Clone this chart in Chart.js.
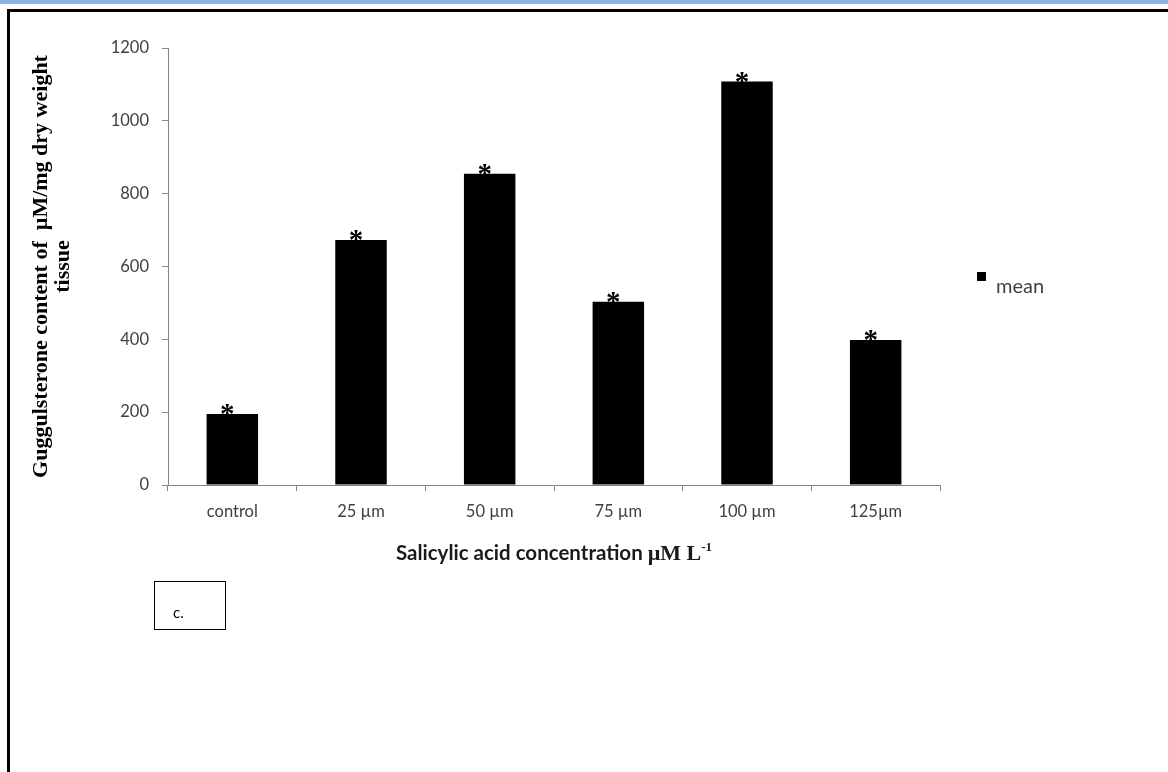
<!DOCTYPE html>
<html>
<head>
<meta charset="utf-8">
<title>Guggulsterone content</title>
<script src="https://cdn.jsdelivr.net/npm/chart.js@4.4.1/dist/chart.umd.min.js"></script>
<style>
  html, body { margin: 0; padding: 0; background: #ffffff; }
  body { width: 1168px; height: 772px; position: relative; overflow: hidden; }
  #strip { position: absolute; left: 0; top: 0; width: 1168px; height: 4px; background: #8db4e2; }
  #frameTop { position: absolute; left: 7px; top: 9px; width: 1161px; height: 3px; background: #000; }
  #frameLeft { position: absolute; left: 7px; top: 9px; width: 3px; height: 763px; background: #000; }
  #chartBox { position: absolute; left: 0; top: 0; width: 1168px; height: 772px; }
  #panel { position: absolute; left: 154px; top: 581px; width: 72px; height: 49px;
           border: 1.5px solid #000; box-sizing: border-box;
           font: 15px Lato, "Open Sans", sans-serif; color: #000; }
  #panel span { position: absolute; left: 18px; top: 21px; }
</style>
</head>
<body>
<div id="strip"></div>
<div id="frameTop"></div>
<div id="frameLeft"></div>
<div id="chartBox"><canvas id="c" width="1168" height="772"></canvas></div>
<div id="panel"><span>c.</span></div>
<script>
// Salicylic acid treatments and mean guggulsterone content
const categories = ['control', '25 µm', '50 µm', '75 µm', '100 µm', '125µm'];
const meanValues = [195, 673, 855, 503, 1108, 398];
const significance = ['*', '*', '*', '*', '*', '*'];
const yTicks = [0, 200, 400, 600, 800, 1000, 1200];
const seriesName = 'mean';
const yTitleLines = ['Guggulsterone content of  µM/mg dry weight', 'tissue'];

const tickFont = { family: 'Lato, "Open Sans", sans-serif', size: 16.5 };
const axisGray = '#868686';
const textGray = '#404040';

// asterisks above bars, the mixed-font x title and the legend key
const annotations = {
  id: 'annotations',
  afterDraw(chart) {
    const ctx = chart.ctx;
    const meta = chart.getDatasetMeta(0);
    ctx.save();
    ctx.fillStyle = '#000';
    ctx.font = 'bold 29px "Liberation Serif", serif';
    ctx.textAlign = 'center';
    ctx.textBaseline = 'alphabetic';
    meta.data.forEach((bar, i) => {
      ctx.fillText(significance[i], bar.x - 5, bar.y + 9);
    });

    // x axis title: "Salicylic acid concentration µM L-1"
    const xs = chart.scales.x;
    const cx = (xs.left + xs.right) / 2;
    const by = 560;
    const partA = 'Salicylic acid concentration ';
    const partB = 'µM L';
    const partC = '-1';
    const fA = 'bold 20.5px Lato, "Open Sans", sans-serif';
    const fB = 'bold 22px "Liberation Serif", serif';
    const fC = 'bold 13px "Liberation Serif", serif';
    ctx.font = fA; const wA = ctx.measureText(partA).width;
    ctx.font = fB; const wB = ctx.measureText(partB).width;
    ctx.font = fC; const wC = ctx.measureText(partC).width;
    let x0 = cx - (wA + wB + wC) / 2;
    ctx.textAlign = 'left';
    ctx.fillStyle = '#1a1a1a';
    ctx.font = fA; ctx.fillText(partA, x0, by);
    ctx.font = fB; ctx.fillText(partB, x0 + wA, by);
    ctx.font = fC; ctx.fillText(partC, x0 + wA + wB, by - 9);

    // legend key
    const ds = chart.data.datasets[0];
    ctx.fillStyle = ds.backgroundColor;
    ctx.fillRect(977, 272, 9, 9);
    ctx.fillStyle = textGray;
    ctx.font = '20px Lato, "Open Sans", sans-serif';
    ctx.textBaseline = 'middle';
    ctx.fillText(ds.label, 996, 287);
    ctx.restore();
  }
};

new Chart(document.getElementById('c'), {
  type: 'bar',
  data: {
    labels: categories,
    datasets: [{
      label: seriesName,
      data: meanValues,
      backgroundColor: '#000000',
      borderWidth: 0,
      categoryPercentage: 0.8,
      barPercentage: 0.5
    }]
  },
  options: {
    responsive: false,
    animation: false,
    devicePixelRatio: 1,
    layout: { padding: { top: 48, right: 228, bottom: 0, left: 0 } },
    plugins: { legend: { display: false }, tooltip: { enabled: false } },
    scales: {
      x: {
        grid: { display: true, drawOnChartArea: false, drawTicks: true, tickLength: 6, color: axisGray, offset: true },
        border: { display: true, color: axisGray, width: 1 },
        ticks: { color: textGray, font: tickFont, padding: 11, maxRotation: 0 },
        afterFit(scale) { scale.height = 772 - 485; }
      },
      y: {
        min: 0,
        max: 1200,
        afterBuildTicks(scale) { scale.ticks = yTicks.map(v => ({ value: v })); },
        grid: { display: true, drawOnChartArea: false, drawTicks: true, tickLength: 6, color: axisGray },
        border: { display: true, color: axisGray, width: 1 },
        ticks: { color: textGray, font: tickFont, padding: 13, callback: v => String(v) },
        title: {
          display: true,
          text: yTitleLines,
          color: '#000',
          font: { family: '"Liberation Serif", serif', size: 22, weight: 'bold', lineHeight: 1.0 },
          padding: { top: 30, bottom: 0 }
        },
        afterFit(scale) { scale.width = 168; }
      }
    }
  },
  plugins: [annotations]
});
</script>
</body>
</html>
